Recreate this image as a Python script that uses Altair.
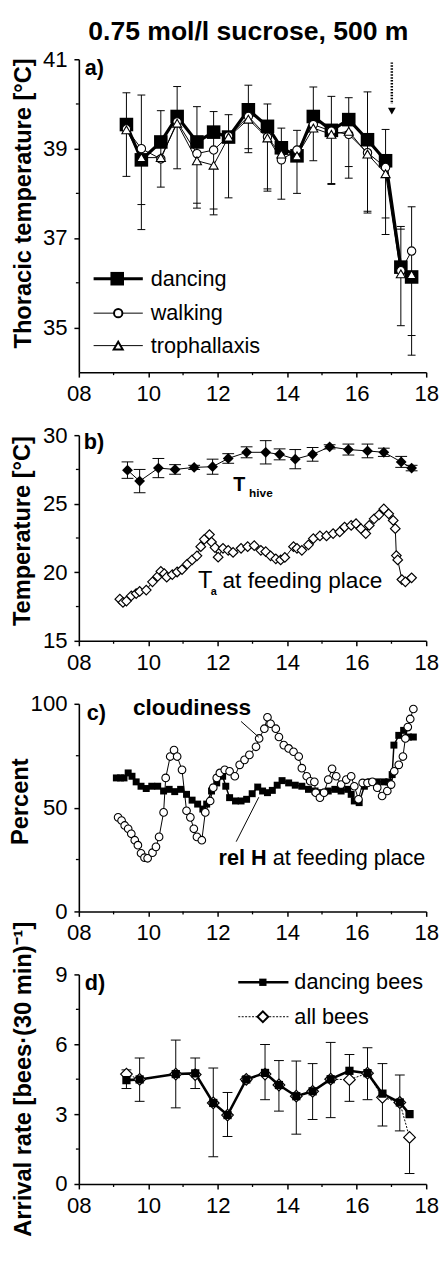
import altair as alt
import pandas as pd

FONT = "Liberation Sans"

# ---------------- panel a: thoracic temperature ----------------
a_time = [9.37, 9.80, 10.36, 10.83, 11.40, 11.88, 12.31, 12.88, 13.43, 13.83, 14.28, 14.75, 15.27, 15.77, 16.31, 16.83, 17.27, 17.58]
a_dancing = [39.54, 38.75, 39.15, 39.72, 39.15, 39.37, 39.26, 39.87, 39.50, 39.02, 38.84, 39.72, 39.41, 39.65, 39.20, 38.73, 36.35, 36.13]
a_walking = [39.44, 39.00, 38.77, 39.60, 38.89, 38.97, 39.28, 39.72, 39.26, 38.75, 38.97, 39.54, 39.39, 39.32, 38.91, 38.58, 36.27, 36.71]
a_troph = [39.42, 38.80, 38.80, 39.57, 38.73, 38.63, 39.26, 39.66, 39.24, 38.88, 38.84, 39.46, 39.32, 39.39, 38.88, 38.44, 36.20, 36.18]
a_hi = [40.25, 40.20, 39.85, 40.39, 39.94, 39.83, 39.76, 40.42, 40.00, 39.46, 39.41, 40.38, 40.17, 40.14, 40.27, 39.43, 37.26, 37.70]
a_lo = [38.38, 37.19, 38.14, 38.55, 37.67, 37.52, 37.90, 38.91, 38.05, 37.87, 38.00, 38.73, 38.22, 38.34, 37.56, 37.08, 35.04, 34.38]
a_cap2_time = [9.80, 11.40, 11.88, 12.88, 13.43, 15.27, 15.77, 16.31, 16.83, 17.27, 17.58]
a_cap2 = [37.75, 37.78, 37.65, 39.00, 38.10, 38.20, 38.60, 37.60, 37.45, 37.20, 34.82]
a_arrow_time = [17.01]
a_arrow_top = [40.93]
a_arrow_end = [40.00]
a_arrow_tip = [39.84]

# ---------------- panel b: temperatures ----------------
b_hive_time = [9.40, 9.75, 10.29, 10.77, 11.32, 11.85, 12.30, 12.83, 13.38, 13.78, 14.23, 14.73, 15.22, 15.76, 16.31, 16.78, 17.28, 17.58]
b_hive = [27.45, 26.65, 27.60, 27.50, 27.65, 27.70, 28.30, 28.75, 28.75, 28.60, 28.25, 28.60, 29.15, 28.95, 28.85, 28.75, 28.05, 27.60]
b_hive_sd = [0.60, 0.85, 0.70, 0.35, 0.15, 0.55, 0.35, 0.40, 0.85, 0.40, 0.70, 0.50, 0.15, 0.40, 0.50, 0.30, 0.40, 0.20]
b_ta_time = [9.18, 9.27, 9.37, 9.51, 9.65, 9.75, 9.94, 10.12, 10.27, 10.36, 10.46, 10.53, 10.69, 10.83, 10.97,
             11.12, 11.26, 11.40, 11.51, 11.61, 11.76, 11.82, 11.92, 12.01, 12.15, 12.30, 12.44, 12.67, 12.86,
             13.05, 13.24, 13.38, 13.52, 13.67, 13.81, 13.93, 14.18, 14.28, 14.42, 14.61, 14.75, 14.94,
             15.13, 15.32, 15.51, 15.65, 15.84, 15.98, 16.12, 16.26, 16.36, 16.50, 16.64, 16.78, 16.92,
             17.05, 17.11, 17.14, 17.18, 17.30, 17.40, 17.58]
b_ta = [18.04, 17.80, 17.90, 18.28, 18.45, 18.60, 18.70, 19.30, 19.70, 20.07, 19.90, 19.64, 19.83, 20.02, 20.20,
        20.60, 20.90, 21.20, 21.87, 22.40, 22.75, 22.20, 21.80, 21.10, 21.75, 21.60, 21.45, 21.75, 21.87,
        21.94, 21.60, 21.50, 21.20, 20.98, 20.90, 21.08, 21.87, 21.75, 21.60, 22.00, 22.46, 22.65,
        22.65, 22.82, 22.94, 23.30, 23.42, 23.54, 23.18, 22.82, 23.42, 23.90, 24.19, 24.62, 24.26,
        23.78, 23.18, 21.22, 20.90, 19.47, 19.30, 19.60]

# ---------------- panel c: percent ----------------
c_cloud_time = [9.13, 9.23, 9.32, 9.42, 9.51, 9.61, 9.70, 9.79, 9.89, 9.98, 10.12, 10.22, 10.31, 10.44, 10.50,
                10.63, 10.74, 10.83, 10.97, 11.10, 11.21, 11.31, 11.40, 11.54, 11.64, 11.78, 11.87, 11.97,
                12.06, 12.20, 12.34, 12.49, 12.63, 12.77, 12.91, 13.10, 13.19, 13.34, 13.43, 13.52, 13.67,
                13.76, 13.90, 14.04, 14.18, 14.33, 14.42, 14.56, 14.66, 14.78, 14.82, 14.94, 15.06, 15.18,
                15.29, 15.41, 15.55, 15.70, 15.84, 15.93, 16.05, 16.17, 16.31, 16.45, 16.59, 16.73, 16.88,
                16.99, 17.08, 17.21, 17.33, 17.40, 17.47, 17.54, 17.63]
c_cloud = [45.3, 43.8, 41.4, 39.8, 37.4, 34.3, 31.9, 28.0, 25.9, 25.6, 28.3, 31.1, 35.9, 47.7, 64.3,
           74.6, 77.7, 74.6, 68.2, 48.5, 45.3, 39.8, 35.9, 34.3, 47.7, 53.2, 59.6, 64.3,
           66.7, 68.2, 67.5, 65.1, 70.6, 73.0, 75.4, 79.3, 83.3, 88.0, 93.5, 90.4, 88.0,
           84.0, 80.1, 78.5, 76.9, 74.6, 69.0, 65.1, 62.7, 62.4, 57.2, 54.8, 57.2, 63.5,
           68.7, 65.1, 61.1, 63.5, 65.1, 60.3, 54.0, 61.9, 61.9, 62.4, 59.6, 55.6, 58.0,
           61.1, 67.5, 70.6, 74.6, 83.3, 88.8, 92.7, 97.5]
c_rh_time = [9.08, 9.20, 9.30, 9.42, 9.53, 9.65, 9.79, 9.94, 10.10, 10.27, 10.44, 10.60, 10.76, 10.93,
             11.10, 11.26, 11.42, 11.57, 11.68, 11.82, 11.97, 12.14, 12.23, 12.34, 12.51, 12.67, 12.83, 12.99,
             13.15, 13.29, 13.43, 13.57, 13.71, 13.85, 14.04, 14.23, 14.42, 14.61, 14.80, 14.99,
             15.18, 15.37, 15.55, 15.74, 15.84, 15.93, 16.07, 16.22, 16.40, 16.59, 16.78, 16.92,
             17.02, 17.07, 17.21, 17.35, 17.49, 17.63]
c_rh = [64.3, 64.3, 64.3, 66.7, 65.1, 62.4, 60.3, 59.2, 60.3, 60.3, 58.0, 58.8, 57.7, 58.8,
        56.4, 53.6, 51.7, 49.3, 51.7, 58.0, 61.9, 65.1, 60.3, 54.8, 53.2, 53.2, 54.0, 56.7,
        59.9, 58.0, 57.2, 58.3, 60.8, 63.0, 61.9, 60.8, 60.3, 58.8, 58.0, 57.2,
        58.0, 58.8, 58.0, 58.8, 56.4, 53.2, 52.4, 60.3, 62.4, 62.4, 62.4, 62.4,
        65.9, 80.1, 84.8, 87.2, 84.0, 84.0]
c_lead_x = [12.67, 12.53]
c_lead_y = [91.5, 33.6]
c_lead_x2 = [13.18, 13.18]
c_lead_y2 = [83.9, 55.0]

# ---------------- panel d: arrival rate ----------------
d_time = [9.37, 9.75, 10.79, 11.35, 11.87, 12.28, 12.82, 13.36, 13.76, 14.26, 14.73, 15.25, 15.79, 16.31, 16.74, 17.24, 17.52]
d_dancing = [4.46, 4.49, 4.72, 4.75, 3.48, 2.96, 4.49, 4.77, 4.25, 3.77, 3.98, 4.50, 4.86, 4.76, 3.88, 3.50, 3.00]
d_all = [4.72, 4.49, 4.72, 4.70, 3.48, 2.96, 4.49, 4.72, 4.25, 3.77, 3.98, 4.50, 4.48, 4.76, 3.72, 3.50, 2.00]
d_hi = [4.90, 5.41, 6.18, 5.41, 4.98, 3.93, 4.60, 5.99, 5.30, 5.28, 5.17, 6.08, 5.56, 5.85, 5.17, 4.68, 2.00]
d_lo = [4.10, 3.55, 3.27, 4.10, 1.17, 2.04, 4.40, 3.62, 3.13, 2.14, 2.77, 2.85, 3.55, 3.62, 2.49, 2.28, 0.45]

x_major = [8, 10, 12, 14, 16, 18]
x_minor = [9, 11, 13, 15, 17]

# ------------------------------------------------------------------
W = 353
xscale = alt.Scale(domain=[8, 18], nice=False, zero=False)


def xaxis(title=None):
    return alt.Axis(values=x_major, format="02d", title=title, labelFlush=False, labelOverlap=False,
                    labelPadding=6, titlePadding=0, titleFontSize=24)


def X(field, title=None):
    return alt.X(field, type="quantitative", scale=xscale, axis=xaxis(title))


def make_y(domain, ticks, title, tx, ty):
    scale = alt.Scale(domain=domain, nice=False, zero=False)
    axis = alt.Axis(values=ticks, title=title, titleX=tx, titleY=ty, titleAngle=270,
                    titleBaseline="middle", titleAlign="center", labelFlush=False, labelOverlap=False,
                    labelPadding=7)

    def Y(field):
        return alt.Y(field, type="quantitative", scale=scale, axis=axis)

    def Y2(field):
        return alt.Y2(field)
    return Y, Y2


def minor_ticks(H, Y, yminor, xtitle=None):
    xm = alt.Chart(pd.DataFrame({"t": x_minor})).mark_rule(color="black", strokeWidth=1.3).encode(
        x=X("t", xtitle), y=alt.value(H), y2=alt.value(H + 3))
    ym = alt.Chart(pd.DataFrame({"v": yminor})).mark_rule(color="black", strokeWidth=1.3).encode(
        y=Y("v"), x=alt.value(0), x2=alt.value(-3))
    return [xm, ym]


def panel_label(txt, xpx=6, ypx=-1):
    return alt.Chart(pd.DataFrame({"label": [txt]})).mark_text(
        align="left", baseline="top", font=FONT, fontSize=22, fontWeight="bold", color="black").encode(
        x=alt.value(xpx), y=alt.value(ypx), text="label:N")


def text_at(txt, xpx, ypx, size, weight="normal", baseline="alphabetic"):
    return alt.Chart(pd.DataFrame({"label": [txt]})).mark_text(
        align="left", baseline=baseline, font=FONT, fontSize=size, fontWeight=weight, color="black").encode(
        x=alt.value(xpx), y=alt.value(ypx), text="label:N")


def legend_item(label, ypx, x0, x1, xm, xt, line_kw, point_kw, fs=22):
    base = alt.Chart(pd.DataFrame({"label": [label]}))
    line = base.mark_rule(color="black", **line_kw).encode(x=alt.value(x0), x2=alt.value(x1), y=alt.value(ypx))
    pt = base.mark_point(**point_kw).encode(x=alt.value(xm), y=alt.value(ypx))
    txt = base.mark_text(align="left", baseline="middle", font=FONT, fontSize=fs, color="black").encode(
        x=alt.value(xt), y=alt.value(ypx), text="label:N")
    return [line, pt, txt]


def errorbars(df, Y, Y2, lo, hi, half, width=1.0):
    base = alt.Chart(df)
    r = base.mark_rule(color="black", strokeWidth=width).encode(x=X("t"), y=Y(lo), y2=Y2(hi))
    c1 = base.mark_rule(color="black", strokeWidth=width, xOffset=-half, x2Offset=half).encode(
        x=X("t"), x2=alt.X2("t"), y=Y(hi))
    c2 = base.mark_rule(color="black", strokeWidth=width, xOffset=-half, x2Offset=half).encode(
        x=X("t"), x2=alt.X2("t"), y=Y(lo))
    return [r, c1, c2]


# ---------------- panel a ----------------
HA = 318
Ya, Ya2 = make_y([34, 41], [35, 37, 39, 41], "Thoracic temperature [°C]", -56, 146)
dfa = pd.DataFrame({"t": a_time, "dancing": a_dancing, "walking": a_walking, "troph": a_troph,
                    "hi": a_hi, "lo": a_lo})
dfa2 = pd.DataFrame({"t": a_cap2_time, "cap": a_cap2})
dfarrow = pd.DataFrame({"t": a_arrow_time, "top": a_arrow_top, "end": a_arrow_end, "tip": a_arrow_tip})
ba = alt.Chart(dfa)
layers_a = []
layers_a += errorbars(dfa, Ya, Ya2, "lo", "hi", 4)
layers_a.append(alt.Chart(dfa2).mark_rule(color="black", strokeWidth=1, xOffset=-4, x2Offset=4).encode(
    x=X("t"), x2=alt.X2("t"), y=Ya("cap")))
layers_a += minor_ticks(HA, Ya, [36, 38, 40])
layers_a.append(ba.mark_line(color="black", strokeWidth=3.2).encode(x=X("t"), y=Ya("dancing")))
layers_a.append(ba.mark_line(color="black", strokeWidth=1).encode(x=X("t"), y=Ya("walking")))
layers_a.append(ba.mark_line(color="black", strokeWidth=1).encode(x=X("t"), y=Ya("troph")))
layers_a.append(ba.mark_point(shape="square", filled=True, color="black", size=190, opacity=1).encode(
    x=X("t"), y=Ya("dancing")))
layers_a.append(ba.mark_point(shape="circle", filled=True, fill="white", stroke="black", strokeWidth=1.1,
                              size=72, opacity=1).encode(x=X("t"), y=Ya("walking")))
layers_a.append(ba.mark_point(shape="triangle-up", filled=True, fill="white", stroke="black", strokeWidth=1.1,
                              size=85, opacity=1).encode(x=X("t"), y=Ya("troph")))
layers_a.append(alt.Chart(dfarrow).mark_rule(color="black", strokeWidth=2.5, strokeDash=[1.5, 1.5]).encode(
    x=X("t"), y=Ya("top"), y2=Ya2("end")))
layers_a.append(alt.Chart(dfarrow).mark_point(shape="triangle-down", filled=True, color="black", size=60,
                                              opacity=1).encode(x=X("t"), y=Ya("tip")))
layers_a += legend_item("dancing", 223, 15, 65, 39, 73, dict(strokeWidth=3),
                        dict(shape="square", filled=True, color="black", size=190, opacity=1))
layers_a += legend_item("walking", 258, 15, 65, 40, 73, dict(strokeWidth=1),
                        dict(shape="circle", filled=True, fill="white", stroke="black", size=72, opacity=1))
layers_a += legend_item("trophallaxis", 291, 15, 65, 40, 73, dict(strokeWidth=1),
                        dict(shape="triangle-up", filled=True, fill="white", stroke="black", size=85, opacity=1))
layers_a.append(panel_label("a)"))
pa = alt.layer(*layers_a).properties(width=W, height=HA)

# ---------------- panel b ----------------
HB = 209
Yb, Yb2 = make_y([15, 30], [15, 20, 25, 30], "Temperature [°C]", -57, 97)
dfh = pd.DataFrame({"t": b_hive_time, "v": b_hive, "sd": b_hive_sd})
dfh["hi"] = dfh["v"] + dfh["sd"]
dfh["lo"] = dfh["v"] - dfh["sd"]
dft = pd.DataFrame({"t": b_ta_time, "v": b_ta})
layers_b = []
layers_b += errorbars(dfh, Yb, Yb2, "lo", "hi", 6)
layers_b += minor_ticks(HB, Yb, [17.5, 22.5, 27.5])
layers_b.append(alt.Chart(dfh).mark_line(color="black", strokeWidth=1).encode(x=X("t"), y=Yb("v")))
layers_b.append(alt.Chart(dfh).mark_point(shape="diamond", filled=True, color="black", size=120,
                                          opacity=1).encode(x=X("t"), y=Yb("v")))
layers_b.append(alt.Chart(dft).mark_line(color="black", strokeWidth=1).encode(x=X("t"), y=Yb("v")))
layers_b.append(alt.Chart(dft).mark_point(shape="diamond", filled=True, fill="white", stroke="black",
                                          strokeWidth=1.2, size=95, opacity=1).encode(x=X("t"), y=Yb("v")))
layers_b.append(text_at("T", 157, 57, 20, "bold"))
layers_b.append(text_at("hive", 173, 63, 12, "bold"))
layers_b.append(text_at("T", 121, 155, 24))
layers_b.append(text_at("a", 134, 162, 11, "bold"))
layers_b.append(text_at("at feeding place", 146, 155, 23))
layers_b.append(panel_label("b)", 5, -3))
pb = alt.layer(*layers_b).properties(width=W, height=HB)

# ---------------- panel c ----------------
HC = 211
Yc, Yc2 = make_y([0, 100], [0, 50, 100], "Percent", -59, 99)
dfc = pd.DataFrame({"t": c_cloud_time, "v": c_cloud})
dfr = pd.DataFrame({"t": c_rh_time, "v": c_rh})
dfl = pd.DataFrame({"t": c_lead_x, "y": c_lead_y, "t2": c_lead_x2, "y2": c_lead_y2})
layers_c = []
layers_c += minor_ticks(HC, Yc, [25, 75])
layers_c.append(alt.Chart(dfr).mark_line(color="black", strokeWidth=1.5).encode(x=X("t"), y=Yc("v")))
layers_c.append(alt.Chart(dfc).mark_line(color="black", strokeWidth=1).encode(x=X("t"), y=Yc("v")))
layers_c.append(alt.Chart(dfr).mark_point(shape="square", filled=True, color="black", size=50,
                                          opacity=1).encode(x=X("t"), y=Yc("v")))
layers_c.append(alt.Chart(dfc).mark_point(shape="circle", filled=True, fill="white", stroke="black",
                                          strokeWidth=1.1, size=60, opacity=1).encode(x=X("t"), y=Yc("v")))
layers_c.append(alt.Chart(dfl).mark_rule(color="black", strokeWidth=1).encode(
    x=X("t"), y=Yc("y"), x2=alt.X2("t2"), y2=Yc2("y2")))
layers_c.append(text_at("cloudiness", 55, 11, 23, "bold"))
layers_c.append(text_at("rel H", 142, 164, 22, "bold"))
layers_c.append(text_at("at feeding place", 197, 164, 22))
layers_c.append(panel_label("c)", 8, -1))
pc = alt.layer(*layers_c).properties(width=W, height=HC)

# ---------------- panel d ----------------
HD = 213
Yd, Yd2 = make_y([0, 9], [0, 3, 6, 9], "Arrival rate [bees·(30 min)⁻¹]", -56, 106)
dfd = pd.DataFrame({"t": d_time, "dancing": d_dancing, "all": d_all, "hi": d_hi, "lo": d_lo})
XT = "Time of day [hours]"
layers_d = []
layers_d += errorbars(dfd, Yd, Yd2, "lo", "hi", 5)
layers_d += minor_ticks(HD, Yd, [1.5, 4.5, 7.5], XT)
layers_d.append(alt.Chart(dfd).mark_line(color="black", strokeWidth=1, strokeDash=[2, 1.5]).encode(
    x=X("t", XT), y=Yd("all")))
layers_d.append(alt.Chart(dfd).mark_line(color="black", strokeWidth=2.6).encode(
    x=X("t", XT), y=Yd("dancing")))
layers_d.append(alt.Chart(dfd).mark_point(shape="diamond", filled=True, fill="white", stroke="black",
                                          strokeWidth=1.2, size=140, opacity=1).encode(
    x=X("t", XT), y=Yd("all")))
layers_d.append(alt.Chart(dfd).mark_point(shape="square", filled=True, color="black", size=70,
                                          opacity=1).encode(x=X("t", XT), y=Yd("dancing")))
layers_d += legend_item("dancing bees", 8, 162, 213, 187, 219, dict(strokeWidth=2.6),
                        dict(shape="square", filled=True, color="black", size=55, opacity=1))
layers_d += legend_item("all bees", 43, 162, 213, 187, 219, dict(strokeWidth=1, strokeDash=[2, 1.5]),
                        dict(shape="diamond", filled=True, fill="white", stroke="black", size=120, opacity=1))
layers_d.append(panel_label("d)", 6, -1))
pd_ = alt.layer(*layers_d).properties(width=W, height=HD)

chart = alt.vconcat(pa, pb, pc, pd_, spacing=64, bounds="flush").properties(
    title=alt.TitleParams("0.75 mol/l sucrose, 500 m", font=FONT, fontSize=27, fontWeight="bold",
                          color="black", anchor="middle", offset=3, dx=25),
    padding={"left": 1, "top": 0, "right": 0, "bottom": 5},
).configure_view(stroke=None).configure_axis(
    domainColor="black", domainWidth=1.6, tickColor="black", tickWidth=1.5, tickSize=5,
    labelFont=FONT, labelFontSize=22.5, labelColor="black", grid=False,
    titleFont=FONT, titleFontWeight="bold", titleFontSize=24, titleColor="black",
)

chart.save("out.html", embed_options={"renderer": "svg", "actions": False})
